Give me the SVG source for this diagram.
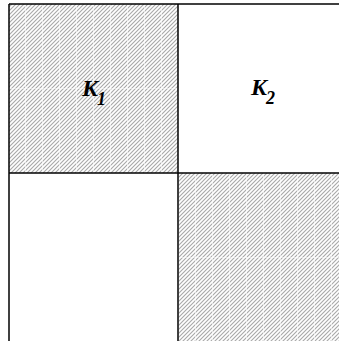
<svg xmlns="http://www.w3.org/2000/svg" width="339" height="341" viewBox="0 0 339 341">
<defs>
<pattern id="hatch" patternUnits="userSpaceOnUse" width="4" height="4">
<rect width="4" height="4" fill="#fff"/>
<path d="M-1,1 L1,-1 M0,4 L4,0 M3,5 L5,3" stroke="#a8a8a8" stroke-width="1.1"/>
</pattern>
<pattern id="seams" patternUnits="userSpaceOnUse" x="8" y="0" width="17" height="341">
<line x1="0.5" y1="0" x2="0.5" y2="341" stroke="#fff" stroke-width="1" stroke-opacity="0.6"/>
</pattern>
</defs>
<style>
.frame{stroke:#000;stroke-width:1.5;fill:none}
.lbl{font-family:"Liberation Serif","Times New Roman",serif;font-weight:bold;font-style:italic;fill:#000}
</style>
<g id="K1">
<rect x="9" y="4" width="169" height="169" fill="url(#hatch)"/>
<rect x="9" y="4" width="169" height="169" fill="url(#seams)"/>
<line x1="9" y1="88.5" x2="178" y2="88.5" stroke="#fff" stroke-opacity="0.5"/>
<text class="lbl" x="82" y="96" font-size="24">K</text>
<text class="lbl" x="97" y="105" font-size="18">1</text>
</g>
<g id="K2">
<text class="lbl" x="251" y="95" font-size="24">K</text>
<text class="lbl" x="266" y="104" font-size="18">2</text>
</g>
<g id="K3">
<rect x="178" y="173" width="161" height="168" fill="url(#hatch)"/>
<rect x="178" y="173" width="161" height="168" fill="url(#seams)"/>
<line x1="178" y1="257.5" x2="339" y2="257.5" stroke="#fff" stroke-opacity="0.5"/>
</g>
<g id="connectors">
<line class="frame" x1="9" y1="4" x2="339" y2="4"/>
<line class="frame" x1="9" y1="4" x2="9" y2="341"/>
<line class="frame" x1="178" y1="4" x2="178" y2="341"/>
<line class="frame" x1="9" y1="173" x2="339" y2="173"/>
</g>
</svg>
